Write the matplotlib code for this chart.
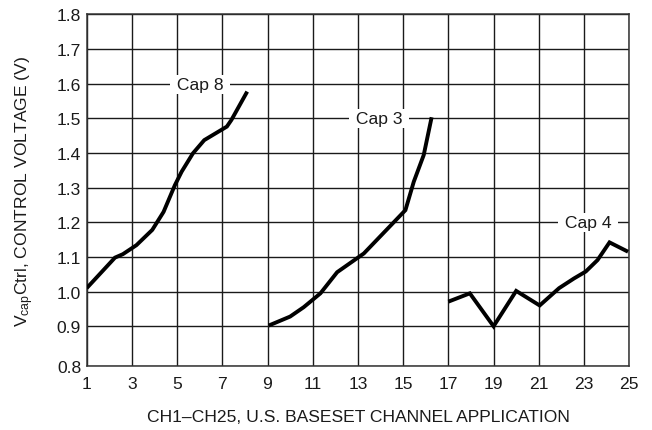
import numpy as np
import matplotlib
matplotlib.use("Agg")
import matplotlib.pyplot as plt

plt.rcParams["font.family"] = ["Liberation Sans", "DejaVu Sans"]
plt.rcParams["mathtext.default"] = "regular"

# Control voltage curves for each capacitor setting (channel, volts)
cap8_ch = [1.0, 2.25, 2.6, 3.2, 3.9, 4.4, 4.9, 5.2, 5.7, 6.2, 7.2, 7.4, 8.1]
cap8_v = [1.01, 1.098, 1.108, 1.134, 1.178, 1.23, 1.307, 1.346, 1.399, 1.437, 1.476, 1.495, 1.577]

cap3_ch = [9.05, 10.0, 10.6, 11.34, 12.08, 13.26, 15.1, 15.47, 15.91, 16.26]
cap3_v = [0.902, 0.928, 0.955, 0.995, 1.056, 1.11, 1.235, 1.317, 1.394, 1.503]

cap4_ch = [17.0, 17.95, 19.0, 20.0, 21.04, 21.9, 22.56, 23.08, 23.6, 24.13, 24.95]
cap4_v = [0.971, 0.995, 0.90, 1.002, 0.96, 1.01, 1.038, 1.058, 1.091, 1.142, 1.115]

series_labels = ["Cap 8", "Cap 3", "Cap 4"]
label_pos = [(6.02, 1.597), (13.95, 1.5), (23.19, 1.2)]

x_ticks = list(range(1, 26, 2))
y_ticks = [0.8, 0.9, 1.0, 1.1, 1.2, 1.3, 1.4, 1.5, 1.6, 1.7, 1.8]

# bottom band of the voltage axis is drawn slightly taller than the rest
K = 1.14


def fwd(y):
    y = np.asarray(y, dtype=float)
    return np.where(y < 0.9, 0.9 - (0.9 - y) * K, y)


def inv(t):
    t = np.asarray(t, dtype=float)
    return np.where(t < 0.9, 0.9 - (0.9 - t) / K, t)


fig = plt.figure(figsize=(6.52, 4.31), dpi=100)
ax = fig.add_axes([0.133, 0.149, 0.832, 0.8155])
ax.set_yscale("function", functions=(fwd, inv))

ax.set_xlim(1, 25)
ax.set_ylim(0.8, 1.8)
ax.set_xticks(x_ticks)
ax.set_yticks(y_ticks)
ax.set_yticklabels([f"{v:.1f}" for v in y_ticks])
ax.minorticks_off()
ax.tick_params(axis="both", length=0, labelsize=12.6, colors="#1a1a1a")
ax.tick_params(axis="y", pad=4)
ax.tick_params(axis="x", pad=7)

ax.grid(True, color="#1a1a1a", linewidth=1.0)
ax.set_axisbelow(True)
for sp in ax.spines.values():
    sp.set_color("#333333")
    sp.set_linewidth(1.1)

for xs, ys in [(cap8_ch, cap8_v), (cap3_ch, cap3_v), (cap4_ch, cap4_v)]:
    ax.plot(xs, ys, color="black", linewidth=2.8, solid_capstyle="butt",
            solid_joinstyle="miter", zorder=3)

for lab, (lx, ly) in zip(series_labels, label_pos):
    ax.text(lx, ly, f" {lab} ", ha="center", va="center", fontsize=12.6,
            color="#1a1a1a", zorder=4,
            bbox=dict(boxstyle="square,pad=0.1", facecolor="white",
                      edgecolor="none"))

ax.set_xlabel("CH1\u2013CH25, U.S. BASESET CHANNEL APPLICATION",
              fontsize=12.6, color="#1a1a1a", labelpad=13)
fig.text(25 / 652, 0.557,
         r"V$_{cap}$Ctrl, CONTROL VOLTAGE (V)", rotation=90,
         ha="center", va="center", fontsize=12.6, color="#1a1a1a")

fig.savefig("out.png", dpi=100, facecolor="white")
